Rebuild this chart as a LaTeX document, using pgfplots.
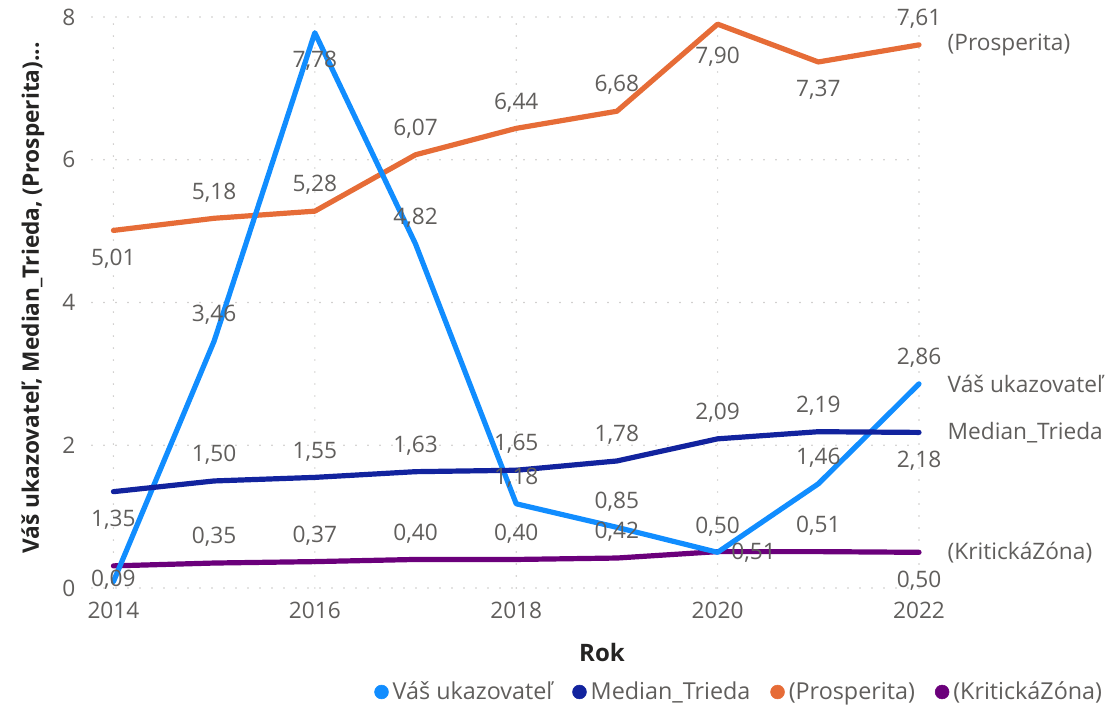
\documentclass[border=0pt]{standalone}
\usepackage{fontspec}
\setmainfont{Open Sans}
\usepackage{pgfplots}
\usepackage{pgfplotstable}
\pgfplotsset{compat=1.18}
\definecolor{cblue}{HTML}{118DFF}
\definecolor{cnavy}{HTML}{12239E}
\definecolor{corange}{HTML}{E66C37}
\definecolor{cpurple}{HTML}{6B007B}
\definecolor{txtgray}{HTML}{605E5C}
\definecolor{titlecol}{HTML}{252423}
\definecolor{gridcol}{HTML}{C8C6C4}

% x y dx(px) up(px) label
\pgfplotstableread{
x y dx up lab
2014 0.09 0 2 0,09
2015 3.46 0 26 3,46
2016 7.78 0 -28 7,78
2017 4.82 0 26 4,82
2018 1.18 0 26 1,18
2019 0.85 0 26 0,85
2020 0.50 0 26 0,50
2021 1.46 0 26 1,46
2022 2.86 0 26 2,86
}\tblue
\pgfplotstableread{
x y dx up lab
2014 1.35 0 -28 1,35
2015 1.50 0 26 1,50
2016 1.55 0 26 1,55
2017 1.63 0 26 1,63
2018 1.65 0 26 1,65
2019 1.78 0 26 1,78
2020 2.09 0 26 2,09
2021 2.19 0 26 2,19
2022 2.18 0 -28 2,18
}\tnavy
\pgfplotstableread{
x y dx up lab
2014 5.01 0 -28 5,01
2015 5.18 0 26 5,18
2016 5.28 0 26 5,28
2017 6.07 0 26 6,07
2018 6.44 0 26 6,44
2019 6.68 0 26 6,68
2020 7.90 0 -33 7,90
2021 7.37 0 -28 7,37
2022 7.61 0 26 7,61
}\torange
\pgfplotstableread{
x y dx up lab
2014 0.31 0 26 {}
2015 0.35 0 26 0,35
2016 0.37 0 26 0,37
2017 0.40 0 26 0,40
2018 0.40 0 26 0,40
2019 0.42 0 26 0,42
2020 0.51 36 -1 0,51
2021 0.51 0 26 0,51
2022 0.50 0 -28 0,50
}\tpurple

\pgfplotsset{
  lbl/.style={
    forget plot,
    line width=3.9pt, line join=round, line cap=round, mark=none,
    nodes near coords,
    point meta=explicit symbolic,
    nodes near coords align={center},
    visualization depends on={\thisrow{dx}\as\ddx},
    visualization depends on={\thisrow{up}\as\dup},
    every node near coord/.append style={font=\fontsize{17}{19}\selectfont, text=txtgray,
       anchor=center, xshift={\ddx*0.75pt}, yshift={\dup*0.75pt}},
  },
}
\tikzset{endlab/.style={anchor=west, xshift=18pt, font=\fontsize{17}{19}\selectfont, text=txtgray}}

\begin{document}
\begin{tikzpicture}
\useasboundingbox (0pt,0pt) rectangle (837pt,-536.25pt);
\begin{axis}[
  at={(69pt,-441pt)}, anchor=south west,
  scale only axis, width=620.25pt, height=428.25pt,
  xmin=2013.787, xmax=2022, ymin=0, ymax=8,
  clip=false,
  axis line style={draw=none},
  major tick length=0pt,
  xtick={2014,2016,2018,2020,2022},
  xticklabels={2014,2016,2018,2020,2022},
  ytick={0,2,4,6,8},
  yticklabels={0,2,4,6,8},
  tick label style={font=\fontsize{17}{19}\selectfont, text=txtgray},
  yticklabel style={xshift=-9pt},
  xticklabel style={yshift=-7pt},
  grid=major,
  major grid style={draw=gridcol, line width=1.2pt, line cap=round, dash pattern=on 0pt off 9pt},
  legend columns=-1,
  legend image code/.code={\fill[#1] (0pt,0pt) circle (5.2pt);},
  legend style={draw=none, fill=none, at={(1.2249,-0.1821)}, anchor=east,
    font=\fontsize{17.5}{20}\selectfont, text=txtgray, inner sep=0pt,
    /tikz/every odd column/.style={column sep=1pt},
    /tikz/every even column/.style={column sep=13pt},
    nodes={inner sep=2pt}},
]
\addlegendimage{color=cblue}\addlegendentry{Váš ukazovateľ}
\addlegendimage{color=cnavy}\addlegendentry{Median\_Trieda}
\addlegendimage{color=corange}\addlegendentry{(Prosperita)}
\addlegendimage{color=cpurple}\addlegendentry{(KritickáZóna)}

\addplot[color=corange, lbl] table[x=x,y=y,meta=lab]{\torange};
\addplot[color=cpurple, lbl] table[x=x,y=y,meta=lab]{\tpurple};
\addplot[color=cblue, lbl] table[x=x,y=y,meta=lab]{\tblue};
\addplot[color=cnavy, lbl] table[x=x,y=y,meta=lab]{\tnavy};
\node[endlab] at (axis cs:2022,7.61) {(Prosperita)};
\node[endlab] at (axis cs:2022,0.50) {(KritickáZóna)};
\node[endlab] at (axis cs:2022,2.86) {Váš ukazovateľ};
\node[endlab] at (axis cs:2022,2.18) {Median\_Trieda};
\end{axis}
\node[text=titlecol, font=\bfseries\fontsize{18}{21}\selectfont] at (451.5pt,-489pt) {Rok};
\node[rotate=90, text=titlecol, font=\bfseries\fontsize{17}{20}\selectfont] at (24.75pt,-223.5pt) {Váš ukazovateľ, Median\_Trieda, (Prosperita)...};
\end{tikzpicture}
\end{document}
